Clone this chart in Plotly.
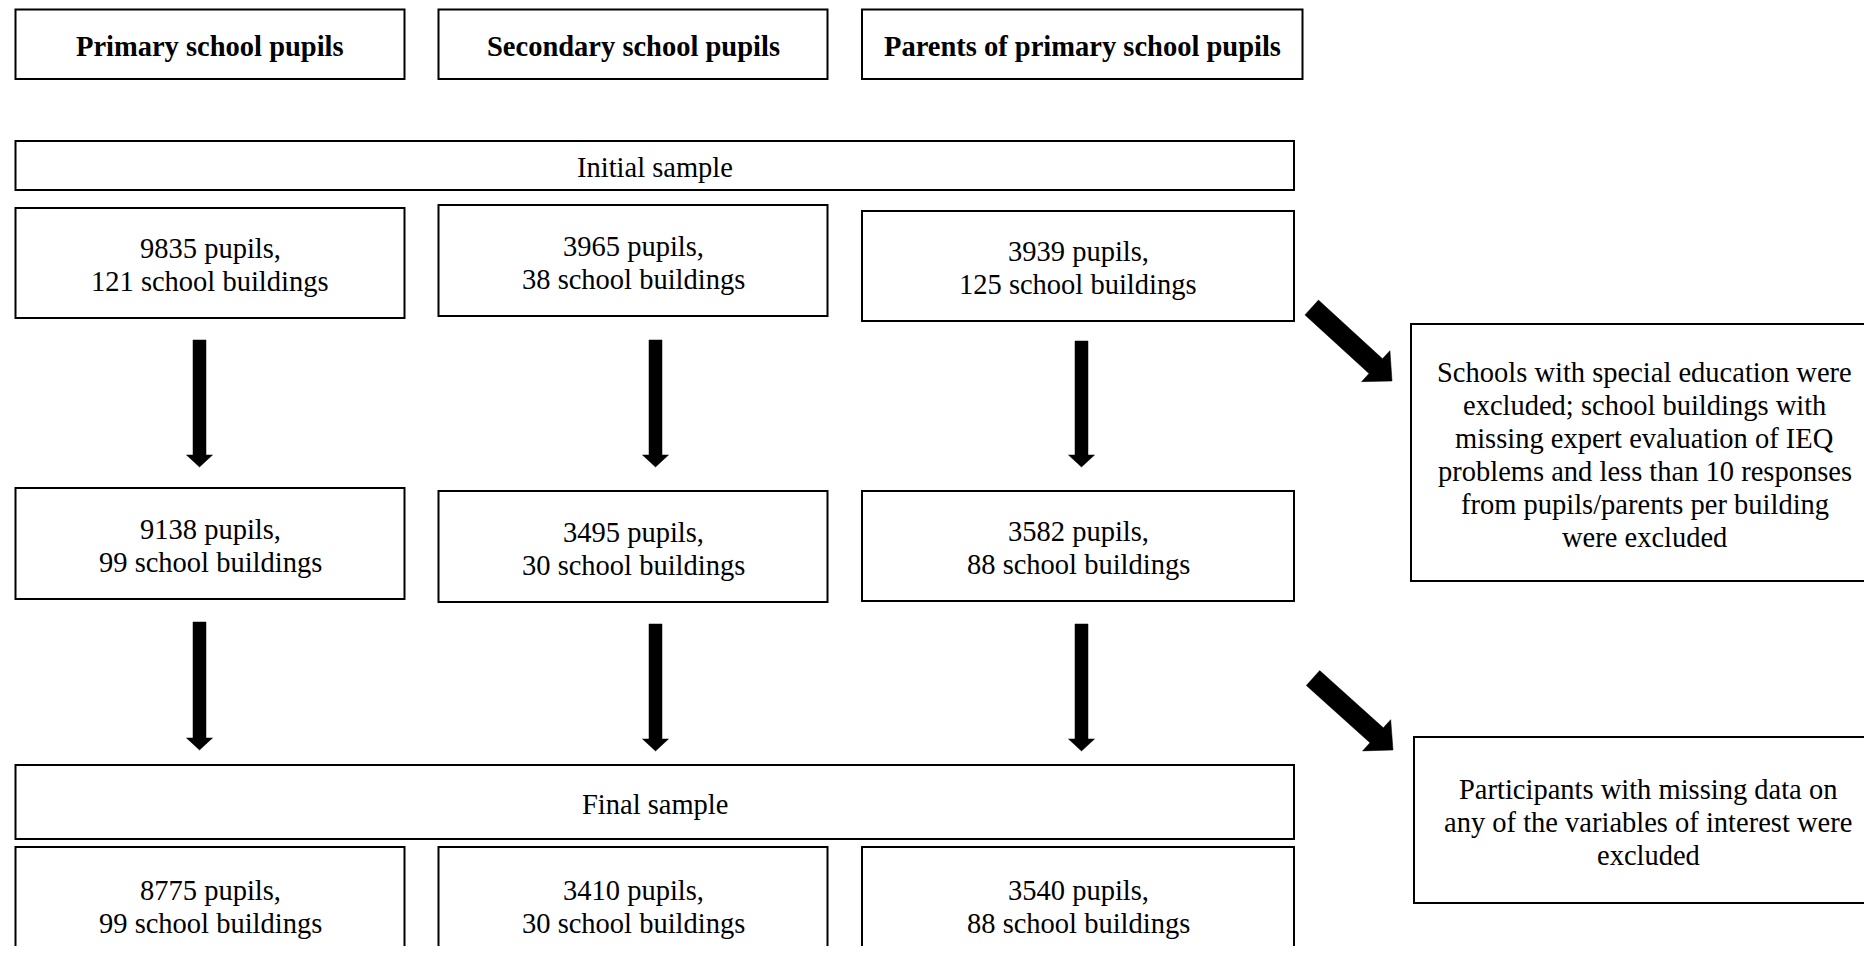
import math
import plotly.graph_objects as go

# ---------------- data ----------------
groups = ["Primary school pupils", "Secondary school pupils", "Parents of primary school pupils"]
stage_labels = ["Initial sample", "Final sample"]
initial_pupils = [9835, 3965, 3939]
initial_buildings = [121, 38, 125]
eligible_pupils = [9138, 3495, 3582]
eligible_buildings = [99, 30, 88]
final_pupils = [8775, 3410, 3540]
final_buildings = [99, 30, 88]
exclusion_step1 = ["Schools with special education were",
                   "excluded; school buildings with",
                   "missing expert evaluation of IEQ",
                   "problems and less than 10 responses",
                   "from pupils/parents per building",
                   "were excluded"]
exclusion_step2 = ["Participants with missing data on",
                   "any of the variables of interest were",
                   "excluded"]

# ---------------- layout geometry (page pixels) ----------------
W, H = 1872, 954
BODY = 8  # default page margin around the plot div
FONT = "Liberation Serif, Times New Roman, serif"
FS = 28.5
LS = 33
TXT_OFF = 2

header_x = [(15.5, 404.5), (438.5, 827.5), (862, 1302.5)]
header_y = (9.5, 79)
col_x = [(15.5, 404.5), (438.5, 827.5), (862, 1294)]
bar_x = (15.5, 1294)
initial_bar_y = (141, 190)
final_bar_y = (765, 839)
row2_y = [(208, 318), (205, 316), (211, 321)]
row3_y = [(488, 599), (491, 602), (491, 601)]
row4_y = [(847, 962), (847, 962), (847, 962)]
arrow_cx = [199.5, 655.5, 1081.5]
arrow1_y = [(340, 467), (340, 467), (341, 467)]
arrow2_y = [(622, 750), (624, 751), (624, 751)]
note_boxes = [((1411, 1878), (324, 581)), ((1414, 1882), (737, 903))]
diag_arrows = [((1311.7, 307.5), (1392, 381)), ((1313, 678), (1393, 750))]

shapes = []
annotations = []


def box(x0, x1, y0, y1, lw=2):
    shapes.append(dict(type="rect", xref="x", yref="y", x0=x0, x1=x1, y0=y0, y1=y1,
                       line=dict(color="black", width=lw), fillcolor="white", layer="below"))


def text_lines(lines, xc, yc, bold=False):
    n = len(lines)
    for i, t in enumerate(lines):
        annotations.append(dict(
            x=xc, y=yc + TXT_OFF + (i - (n - 1) / 2) * LS, xref="x", yref="y",
            text=f"<b>{t}</b>" if bold else t, showarrow=False,
            xanchor="center", yanchor="middle",
            font=dict(family=FONT, size=FS, color="black")))


def arrow(start, tip, w, hw, hl):
    (x0, y0), (x1, y1) = start, tip
    L = math.hypot(x1 - x0, y1 - y0)
    ux, uy = (x1 - x0) / L, (y1 - y0) / L
    nx, ny = -uy, ux
    bx, by = x1 - ux * hl, y1 - uy * hl
    pts = [(x0 + nx * w / 2, y0 + ny * w / 2), (bx + nx * w / 2, by + ny * w / 2),
           (bx + nx * hw / 2, by + ny * hw / 2), (x1, y1),
           (bx - nx * hw / 2, by - ny * hw / 2), (bx - nx * w / 2, by - ny * w / 2),
           (x0 - nx * w / 2, y0 - ny * w / 2)]
    path = "M " + " L ".join(f"{px:.2f},{py:.2f}" for px, py in pts) + " Z"
    shapes.append(dict(type="path", xref="x", yref="y", path=path,
                       fillcolor="black", line=dict(color="black", width=0.5)))


# header boxes
for g, (x0, x1) in zip(groups, header_x):
    box(x0, x1, *header_y)
    text_lines([g], (x0 + x1) / 2, sum(header_y) / 2, bold=True)

# stage bars
for lab, yy in zip(stage_labels, [initial_bar_y, final_bar_y]):
    box(bar_x[0], bar_x[1], *yy)
    text_lines([lab], sum(bar_x) / 2, sum(yy) / 2)

# count boxes
for rows_y, pupils, buildings in [(row2_y, initial_pupils, initial_buildings),
                                  (row3_y, eligible_pupils, eligible_buildings),
                                  (row4_y, final_pupils, final_buildings)]:
    for (x0, x1), (y0, y1), p, b in zip(col_x, rows_y, pupils, buildings):
        box(x0, x1, y0, y1)
        text_lines([f"{p} pupils,", f"{b} school buildings"], (x0 + x1) / 2, (y0 + y1) / 2)

# vertical arrows
for cx, a1, a2 in zip(arrow_cx, arrow1_y, arrow2_y):
    for (ys, ye) in (a1, a2):
        arrow((cx, ys), (cx, ye), 13, 26, 12)

# exclusion notes
for ((x0, x1), (y0, y1)), lines in zip(note_boxes, [exclusion_step1, exclusion_step2]):
    box(x0, x1, y0, y1)
    text_lines(lines, (x0 + x1) / 2, (y0 + y1) / 2)

for s, t in diag_arrows:
    arrow(s, t, 20, 42, 22)

fig = go.Figure()
fig.add_trace(go.Scatter(x=[], y=[], showlegend=False))
fig.update_layout(
    width=W - 2 * BODY, height=H - 2 * BODY, margin=dict(l=0, r=0, t=0, b=0),
    paper_bgcolor="white", plot_bgcolor="white",
    xaxis=dict(range=[BODY, W - BODY], visible=False, fixedrange=True),
    yaxis=dict(range=[H - BODY, BODY], visible=False, fixedrange=True),
    shapes=shapes, annotations=annotations, showlegend=False,
)
fig.write_html("out.html")
